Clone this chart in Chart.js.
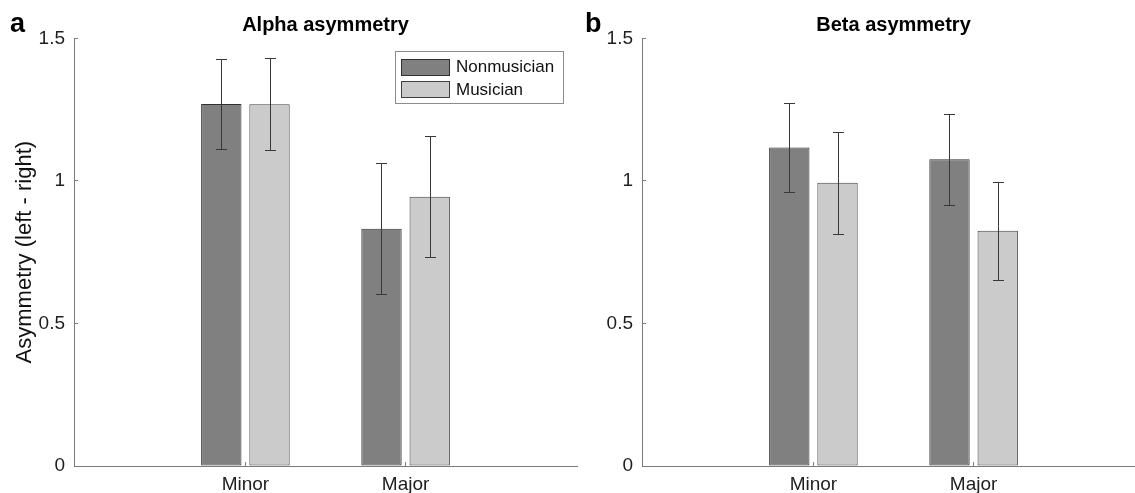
<!DOCTYPE html>
<html><head><meta charset="utf-8">
<script src="https://cdn.jsdelivr.net/npm/chart.js@4.4.1/dist/chart.umd.min.js"></script>
<style>
html,body{margin:0;padding:0;background:#fff;width:1135px;height:493px;overflow:hidden;position:relative;}
.panel{position:absolute;top:0;width:580px;height:493px;}
#wa{left:0}
#wb{left:568px}
.letter{position:absolute;font:bold 27px "Liberation Sans",Arial,sans-serif;line-height:27px;color:#000;}
</style></head><body>
<div class="panel" id="wa"><canvas id="ca" width="580" height="493"></canvas></div>
<div class="panel" id="wb"><canvas id="cb" width="580" height="493"></canvas></div>
<div class="letter" style="left:10px;top:10px">a</div>
<div class="letter" style="left:585px;top:10px">b</div>
<script>
const categories = ['Minor', 'Major'];
const seriesNames = ['Nonmusician', 'Musician'];
const alphaNonmusician = [1.270, 0.832];
const alphaMusician = [1.269, 0.944];
const alphaNonmusicianErr = [0.158, 0.230];
const alphaMusicianErr = [0.162, 0.212];
const betaNonmusician = [1.117, 1.076];
const betaMusician = [0.993, 0.825];
const betaNonmusicianErr = [0.157, 0.159];
const betaMusicianErr = [0.180, 0.172];
const yMin = 0, yMax = 1.5, yStep = 0.5;

const FONT = '"Liberation Sans", Arial, Helvetica, sans-serif';
const fills = ['#808080', '#cbcbcb'];
const edges = ['#303030', '#404040'];

const errorBarPlugin = {
  id: 'errorBars',
  afterDatasetsDraw(chart) {
    const ctx = chart.ctx, ys = chart.scales.y;
    ctx.save();
    ctx.strokeStyle = '#383838';
    ctx.lineWidth = 1;
    chart.data.datasets.forEach((ds, i) => {
      const meta = chart.getDatasetMeta(i);
      meta.data.forEach((bar, j) => {
        const v = ds.data[j].y, e = ds.errors[j];
        const x = Math.round(bar.x) + 0.5;
        const yt = Math.round(ys.getPixelForValue(v + e)) + 0.5;
        const yb = Math.round(ys.getPixelForValue(v - e)) + 0.5;
        ctx.beginPath();
        ctx.moveTo(x, yt); ctx.lineTo(x, yb);
        ctx.moveTo(x - 5.5, yt); ctx.lineTo(x + 5.5, yt);
        ctx.moveTo(x - 5.5, yb); ctx.lineTo(x + 5.5, yb);
        ctx.stroke();
      });
    });
    ctx.restore();
  }
};

const legendBoxPlugin = {
  id: 'legendBox',
  afterDraw(chart) {
    const ctx = chart.ctx;
    ctx.save();
    ctx.fillStyle = '#fff';
    ctx.strokeStyle = '#8c8c8c';
    ctx.lineWidth = 1;
    ctx.fillRect(395.5, 51.5, 168, 52);
    ctx.strokeRect(395.5, 51.5, 168, 52);
    ctx.font = '17px ' + FONT;
    ctx.textBaseline = 'middle';
    ctx.textAlign = 'left';
    chart.data.datasets.forEach((ds, i) => {
      const top = 58.5 + i * 22.7;
      ctx.fillStyle = ds.backgroundColor;
      ctx.fillRect(401.5, Math.round(top) + 0.5, 48, 16);
      ctx.strokeStyle = ds.borderColor;
      ctx.strokeRect(401.5, Math.round(top) + 0.5, 48, 16);
      ctx.fillStyle = '#111';
      ctx.fillText(ds.label, 456, top + 9);
    });
    ctx.restore();
  }
};

function makeChart(id, title, nm, mu, nmErr, muErr, showYTitle, showLegend) {
  const series = [nm, mu], errs = [nmErr, muErr];
  const plugins = [errorBarPlugin];
  if (showLegend) plugins.push(legendBoxPlugin);
  return new Chart(document.getElementById(id), {
    type: 'bar',
    data: {
      datasets: series.map((vals, s) => ({
        label: seriesNames[s],
        data: categories.map((c, i) => ({ x: i + 1, y: vals[i] })),
        errors: errs[s],
        backgroundColor: fills[s],
        borderColor: edges[s],
        borderWidth: 1,
        borderSkipped: false,
        categoryPercentage: 0.602,
        barPercentage: 0.837
      }))
    },
    options: {
      responsive: false,
      animation: false,
      devicePixelRatio: 1,
      events: [],
      layout: { padding: { left: 0, right: 3, top: 0, bottom: 0 } },
      plugins: {
        legend: { display: false },
        tooltip: { enabled: false },
        title: {
          display: true,
          text: title,
          fullSize: false,
          color: '#000',
          font: { family: FONT, size: 20, weight: 'bold', lineHeight: 1.2 },
          padding: { top: 13.5, bottom: 0.8 }
        }
      },
      scales: {
        x: {
          type: 'linear',
          offset: false,
          min: -0.07,
          max: 3.07,
          afterBuildTicks: s => { s.ticks = categories.map((c, i) => ({ value: i + 1 })); },
          afterFit: s => { s.height = 27; },
          ticks: {
            autoSkip: false,
            maxRotation: 0,
            padding: 11.1,
            color: '#1e1e1e',
            font: { family: FONT, size: 19, lineHeight: 1.2 },
            callback: v => categories[Math.round(v) - 1] || ''
          },
          grid: { display: true, offset: false, drawOnChartArea: false, drawTicks: true, tickLength: -4, color: '#808080' },
          border: { display: true, color: '#7a7a7a', width: 1 }
        },
        y: {
          min: yMin,
          max: yMax,
          afterFit: s => { s.width = 74; },
          ticks: {
            stepSize: yStep,
            padding: 13,
            color: '#1e1e1e',
            font: { family: FONT, size: 19, lineHeight: 1.2 },
            callback: v => String(v)
          },
          grid: { display: true, drawOnChartArea: false, drawTicks: true, tickLength: -4, color: '#808080' },
          border: { display: true, color: '#7a7a7a', width: 1 },
          title: {
            display: showYTitle,
            text: 'Asymmetry (left - right)',
            color: '#111',
            font: { family: FONT, size: 22, lineHeight: 1.2 },
            padding: { top: 11.3, bottom: 0 }
          }
        }
      }
    },
    plugins: plugins
  });
}

makeChart('ca', 'Alpha asymmetry', alphaNonmusician, alphaMusician, alphaNonmusicianErr, alphaMusicianErr, true, true);
makeChart('cb', 'Beta asymmetry', betaNonmusician, betaMusician, betaNonmusicianErr, betaMusicianErr, false, false);
</script>
</body></html>
